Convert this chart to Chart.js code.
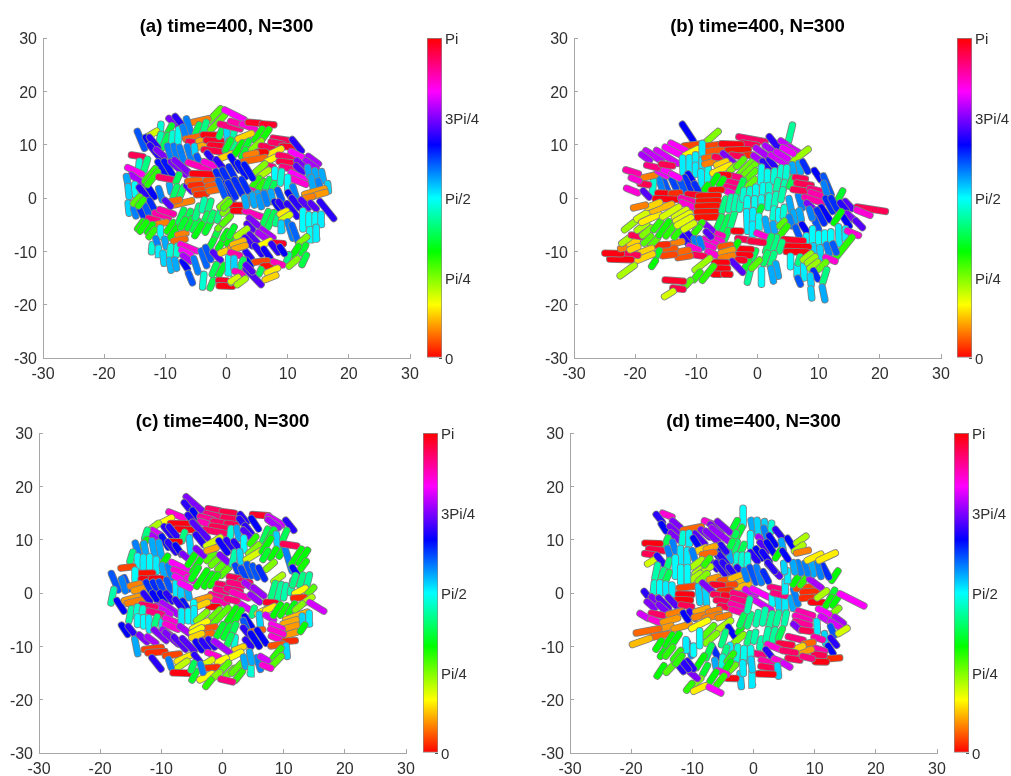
<!DOCTYPE html>
<html lang="en">
<head>
  <meta charset="UTF-8">
  <title>time=400, N=300</title>
  <script src="https://cdn.jsdelivr.net/npm/chart.js"></script>
  <style>
    body { margin: 0; background: #fff; }
    canvas { position: absolute; }
  </style>
</head>
<body>
  <script>
    // each rod: [x, y, angle in degrees, length]
    const rodsA = [
      [-1.9,15.6,50,2.5],[-1.5,14.1,50,3.2],[1.3,15.6,150,3.2],[-4.3,14.5,15,2.2],[-8.4,13.9,135,2.5],[-7.7,14.3,125,2],[-6.1,13.2,105,3],[-10.8,12.9,85,1.5],[-9.5,12.4,65,2.2],[-12.6,11.7,35,2.5],[-10.9,11,80,1.5],[-10,10.6,70,2],[-8.9,10.9,85,2],[-7.9,11.4,88,2.5],[-6.9,12.4,105,1.5],[-4.8,12.8,70,1.5],[-3.7,12.8,75,2.5],[-5.5,11.3,12,2],[-5.3,10.4,170,1.5],[-3.9,10.9,20,1],[-3.7,9.9,20,2],[-2.6,11.8,178,2],[-1.6,10.7,175,3],[-1.5,9.8,175,2],[-1.9,8.8,172,3.2],[-.95,12.2,70,1],[.1,11.8,95,1.5],[1.1,11.6,80,1.5],[.6,13.4,165,3],[.1,9.8,70,1.5],[1.1,9.9,75,1],[-14,10.9,110,3],[-12.5,10.1,120,2.5],[-11.9,10.4,125,2],[-14.6,7.9,170,1.5],[-14.3,6.2,85,1],[-13.2,6.2,75,1.8],[-11.7,8.7,125,2.5],[-10.8,8.4,135,1.5],[-9.2,8.1,105,3],[-8.2,8.1,105,3],[-7.3,8.1,105,2.5],[-6.1,8.5,105,2],[-5.2,9,95,1],[-4.6,7.2,110,1],[-2.6,7.6,125,1.5],[-4.6,6,158,3.2],[-2.8,6.4,155,1.5],[-.2,7.8,25,2],[-1,6.2,125,2],
      [-15,5.1,152,2.2],[-14.6,3.5,140,2.2],[-16.2,3.1,100,1.5],[-15,1.6,90,1.5],[-16,1.2,95,1.5],[-13.6,1,125,2],[-12.5,1.5,120,2.5],[-10.8,.7,105,1.8],[-9.2,1.8,100,1],[-10.6,5.6,118,2.2],[-9.5,5.6,118,2.5],[-7.9,5.6,135,3],[-7.3,5.9,135,3],[-12.5,4.3,55,2.5],[-12.1,3.7,55,2.5],[-10,3.7,168,1.8],[-8,3.7,70,1],[-8.4,1.2,72,1.5],[-7.3,1.2,72,1.5],[-6.1,1.8,130,1],[-5.4,3.3,12,1.5],[-4.9,2.4,5,1.5],[-4.3,1.5,8,1.5],[-4.1,.7,5,1.2],[-2.4,3.4,10,1.5],[-2.1,2.4,10,1.5],[-1.9,1.5,12,1.5],[-3.8,4.5,178,3.2],[-1,3.4,115,3],[.05,3.7,115,3],[1.1,4.3,115,3],[.3,1.2,115,3],[-.8,1.8,110,2.8],
      [1.7,14,160,1.8],[3.6,13.4,155,1.8],[4.5,14.1,175,1.5],[6.8,13.8,175,1.5],[5.2,11.9,58,2],[6.3,11.8,58,2],[3,11.6,25,2],[.3,10,65,1.5],[2,9.3,60,2],[3.3,9.9,65,1.2],[2.8,8.4,65,1],[4.9,9.9,45,1.8],[6.6,9.6,170,1.5],[8.9,11,170,2.2],[8.2,10.3,168,1.5],[10,9.6,175,1.5],[11.5,9.9,125,2.2],[7.8,8.6,28,2.2],[5.7,8.6,0,1],[4,8.2,15,1.3],[4.5,7.2,12,3.2],[7.4,7.3,30,1.5],[6.9,6,165,1],[9.6,7.8,168,1.8],[9.7,6.7,172,1.8],[10,5.6,165,1.5],[11.6,8.1,150,2],[14.2,7.1,140,1.8],[13.8,6.3,140,1.8],[12,6.5,135,1],[11.9,5.4,130,1.2],[11.7,4.1,150,2.2],[11.8,3.1,155,2.2],[13.4,4.9,100,1.3],[14.6,4.3,100,1.3],[15.7,4.1,100,1.3],[14,2.9,100,1.5],[15.2,2.4,105,1.2],[16.6,2,95,1],[14.4,1.2,18,3],[15.3,.75,18,1.5],[13.4,.1,15,1],[5.5,5.6,45,1.8],[6,4.5,40,1.8],[4.8,2.9,55,1.5],[5.6,2.3,55,1.5],[6.7,2.6,70,1.5],[7.8,2.6,70,1],[7.9,4.6,90,1],[8.9,3.9,85,1.8],[10,2.8,90,1.8],[11.1,1.2,105,1.5],[3.8,1.5,158,1],[10.4,.4,120,1],[7.4,.25,100,1.5],[6.3,.1,100,1.5],[5.2,0,100,1.5],[4.1,0,100,1.5],[8.7,.6,110,1.5],[1.4,6.5,120,2.5],[2.5,5.3,118,2.5],[3.6,5,118,2.5],[3,2.4,115,2],[1.9,2.1,115,2.5],[.85,1.5,115,2.5],
      [-16,-1.9,95,1.5],[-15,-2.7,105,1],[-13.8,-2.9,115,1.5],[-13,-2.25,110,1.2],[-12.2,-1.3,115,1.5],[-14.7,-.4,50,1.2],[-14,-.9,55,1],[-12,-4,165,1.2],[-10.6,-3.2,160,2],[-9.8,-2.6,160,2],[-10.6,-4.75,15,1.2],[-14.1,-5.1,58,1.2],[-13.6,-5.4,58,1.5],[-12.5,-5.7,60,1.2],[-12.2,-6.6,55,1.2],[-10.8,-6.4,90,1.2],[-9.2,-5.4,58,1.5],[-8.7,-6.5,60,1.8],[-7.3,-6.75,15,1],[-7.7,-7.9,12,1.5],[-7.1,-.9,15,2.5],[-8.4,-.5,12,1],[-9.6,-1,130,1],[-7.4,-3.4,70,2],[-6.2,-3.4,70,1.5],[-6,-4.75,65,1.5],[-7.1,-4.75,65,1.2],[-5.1,-5.1,68,1.5],[-4.8,-2.6,75,1.8],[-3.8,-1.3,80,1.5],[-2.8,-1.5,75,1.5],[-3.4,-3.8,70,1.2],[-4.6,-6,62,2],[-3,-5.4,65,1.8],[-2.4,-3.5,72,1],[-1.3,-3.4,75,1.2],[-1.6,-6.6,68,1],[-2.4,-8.5,65,1],[-1,-8.8,62,1],[-.2,-6.9,62,1],[.6,-7.75,60,1.5],[-.5,-4.75,48,2.2],[0,-4.1,50,1.5],[-.4,-1,45,1.5],[0,-2.25,45,1.2],[-12.2,-9.4,85,1],[-11.4,-8.2,105,.8],[-10,-8.4,100,1],[-11.1,-10,92,.8],[-10.3,-11.3,95,1.5],[-9.2,-9.9,85,1.2],[-8.1,-9.8,85,1.2],[-9.2,-12.6,98,1.5],[-8.3,-12.4,100,1.2],[-6.8,-12.6,120,1.2],[-5.9,-15,110,1.5],[-6.2,-9.3,155,2.5],[-6.6,-10.2,150,1.3],[-6.5,-11.3,140,1.2],[-5,-12.6,105,2.2],[-3.7,-11.3,108,2.5],[-3,-10.4,110,2],[-1.6,-10.9,130,1.5],[-3.8,-15.5,85,2],[-2.4,-16.1,70,1.2],[-2,-13.4,70,1.5],[-.8,-13.5,65,1.5],[.3,-12.6,88,2.5],[-.1,-9.9,25,1.5],[1.4,-9.1,18,1],[-.6,-15.5,175,1],[-.1,-16.5,178,1.8],[1.3,-15.4,40,1],
      [1.7,-1.4,178,1.2],[1.8,-2.4,178,1],[4.4,-3,158,2.5],[0,-1.3,50,1],[3.1,-.7,100,1.2],[4.4,-.4,100,1.5],[5.5,-.7,102,1.5],[6.4,-.1,105,1.5],[8.2,-1.3,120,1],[8.9,-1.3,125,1],[10.7,-2.25,125,2.5],[11.3,-.9,125,1.8],[12.8,-1.1,130,1.5],[14.2,-1.5,130,1],[16.4,-2.25,125,3.5],[12.5,-4.1,90,3],[13.5,-4.1,90,1.5],[14.5,-4.1,90,1.5],[15.5,-4,92,1.5],[13.6,-6.9,88,1.5],[14.7,-6.6,92,1.8],[6.4,-3.8,70,2.2],[7.3,-4.1,70,2.5],[8.2,-4.1,75,1],[9.3,-2.75,28,.8],[9.7,-3.6,35,1.2],[9,-5.4,95,1],[10.4,-6,105,2.8],[11.2,-6.6,108,2.8],[12.5,-7.9,45,1.3],[12.6,-9.6,65,1.2],[11.3,-9.9,60,1.5],[10,-11.3,75,1],[10.9,-12.1,45,1.5],[12.7,-11.6,68,1.5],[6.6,-6.6,140,2.2],[5.9,-7.1,140,1.5],[4.4,-4.4,135,1.5],[3.8,-5.4,130,1],[.85,-6.3,65,1.5],[2.5,-6.5,40,1.8],[4.4,-7.6,130,1.5],[3.6,-8.2,128,1.5],[6.3,-8.5,30,1.5],[8.5,-8.5,175,1.2],[5.2,-9.75,125,1.5],[3.6,-10.7,125,1.2],[6.6,-10.4,122,1.5],[7.9,-9.4,125,1.5],[9.1,-9.8,120,1],[1.9,-8.4,22,1.5],[2.2,-9.25,20,1.5],[1.4,-10.5,160,1.2],[5.6,-11.9,8,1.8],[6.6,-12.75,2,.8],[8.4,-12.25,158,1.2],[3.6,-12.25,120,.9],[5.5,-13.8,70,.5],[2.5,-12.25,70,1],[1.3,-12.1,95,1.2],[2,-14,158,1],[4.4,-14.75,130,3.5],[3.7,-13.2,130,1.2],[7.5,-13.6,28,1.5],[7.2,-14.9,25,1.5],[1.3,-15.25,35,1],[2.4,-15.7,40,1.3]
    ];
    const rodsB = [
      [-11.4,12.3,120,3.3],[-7.5,11.4,45,2.8],[5.4,12.2,78,2.8],[-.9,11,168,4.2],[-1.3,10.1,170,2.2],[2.7,10.4,125,2.5],[4.5,10.2,143,1.5],[5.9,9.1,145,1.5],[6.9,7.9,42,3.5],[-10.8,9.9,8,2.2],[-7.1,9.9,8,2],[-6.9,8.9,10,3],[-4.3,10.1,178,3],[-3.2,9,2,3.2],[-1.7,8,5,1.5],[-3.4,7.9,170,1.5],[-13,9.6,150,2.5],[-13.8,8.8,150,2.8],[-14.8,7.7,145,4],[-17,7.9,143,3],[-18.3,7.6,140,1.5],[-10.8,8.6,30,2.2],[-9,8.9,92,2.5],[-12.2,6,92,2.8],[-11.1,6.2,92,2.5],[-10.1,7.2,92,1.6],[-10.1,5.3,92,1.5],[-9,6.4,92,1.5],[-9.2,3.7,92,2.3],[-8.1,4.3,88,2.5],[-7.8,7.6,12,1.5],[-7.8,6.6,15,1.5],[-6.4,7.6,170,1],[-4.7,7.4,135,2.5],[-5.9,6.5,25,1.5],[-5.9,5.4,28,3],[-4,5.6,45,1.2],[-2.8,6.6,50,1.5],[-1.7,5.9,48,3.5],[-1.3,5.3,48,3],[-1,4.3,50,1.8],[-1.1,2.75,48,1.8],[0,7.4,140,1.5],[.8,8.5,140,2.5],[1.9,9.3,140,1.5],[1.3,6.2,125,1.5],[2.4,6.5,125,1.5],[3.6,7.1,145,3.2],[4,8,145,2],[5,8.9,148,1.8],[5.8,5.4,100,1.5],[6.9,5.7,100,1.5],[7.8,5.9,115,1.8],[9.8,4.3,120,1.8],[.6,4.3,88,2.8],[1.6,3.9,88,1.8],[2.7,4.1,85,1.8],[3.8,4.7,85,1.8],[4.7,4.7,85,1.8],[-3.6,4,165,1.2],[-4.1,2.9,165,1.5],[-4.4,1.9,165,1.5],[-4.4,1,155,1],[-5.4,4.3,178,1.2],[-7,3.4,60,1.5],[-5.9,3,60,1],[-8.5,1.8,60,1.2],[-11,3.9,120,1.2],[-11.4,2.75,115,2.2],[-10,2,115,1.3],[-12.3,2.3,110,1.8],[-13.7,2.75,112,1.8],[-15,2.3,110,1.8],[-15.9,2.75,105,1.8],[-17.1,2.1,85,2],[-17.9,4,15,2.2],[-18.5,2.6,170,1.2],[-20.5,4.9,160,2],[-20,3.5,155,1.2],[-20.5,1.4,155,1.8],[-18.2,.75,130,1.3],[-15.6,4.6,148,1.5],[-15,5.1,150,1.2],[-13.4,4.1,150,1.2],[-17.2,5.9,165,1.7],[-14.8,6.2,170,1.7],[-15.6,.9,178,1.2],[-13.4,.9,5,1.2],[-15,-.2,178,3.2],[-10.1,.6,175,2.5],[-11.4,-.4,160,2.2],[-11.4,-1.3,155,2],[-6.7,1.5,2,1.5],[-8,.4,2,3],[-8,-.6,2,3],[-8.2,-1.5,2,3],[-8.3,-2.6,2,3],[-8.3,-3.6,2,3],
      [-5.5,-1.3,75,2.2],[-6.3,-4.8,70,2.4],[-5.2,-4.8,70,2.4],[-4.1,-4.1,75,2.6],[-4.5,-1,80,2.2],[-3.6,-.8,80,2.2],[-2.8,-1,82,2],[-2.7,2.25,70,2],[-2.3,.6,85,1.5],[-1.3,.75,85,1.5],[-.3,1.2,88,1.5],[.9,1.5,88,1.5],[1.8,1.5,85,1.5],[3.2,2.4,80,1.5],[4.3,2.1,80,1.5],[5.5,3,70,1.5],[-1.7,-1,88,1.5],[-.5,-1,88,1.5],[.6,-.7,88,1.2],[1.8,-.7,85,2],[2.9,-.4,82,2],[4,.6,80,1.7],[2.6,-2.9,85,1.5],[3.5,-3.2,90,1.5],[4.3,-2.6,85,1.5],[.4,-2.25,65,1],[-1.7,-4.4,92,3.5],[-.7,-3.2,92,1.5],[-.8,-5.9,92,1.8],[.2,-4.4,88,1.8],[-5.1,-7,70,1.7],[-3.3,-6.2,178,1],[1.5,-5.3,100,2.5],[2.7,-5.7,100,1.5],[5.4,-1.6,100,2.8],[7,-.7,105,2.2],[6,-3.5,100,1.5],[7,-3.2,100,1.5],[5.4,-4.4,105,1.5],[6.5,-6.3,110,1.5],[7.7,-5.7,120,1.5],[4,-4.8,50,1],[4.3,-6.1,55,1.8],[.8,-7,155,1.8],[7,3.7,170,1.5],[7.6,2.6,170,2.2],[7,1.4,170,2.2],[9.5,1.5,165,1.8],[9.8,.6,160,2.2],[9.2,-.4,160,3],[9,-1.9,135,2.5],[11.4,2.4,110,3.5],[11.1,1.7,105,2],[13.5,.4,65,1.8],[11.7,-1.3,115,2.5],[12.5,-1,115,2],[11.1,-2.9,120,2.5],[10.3,-3.5,115,2.5],[9.6,-4.8,110,2],[8.7,-2.9,105,1.5],[14.9,-1.3,130,1.5],[14,-1.6,125,1.5],[18.6,-2.1,170,4.5],[17.3,-2.75,155,2.2],[15.2,-3.5,135,1.5],[16.6,-4.9,130,1.5],[14.5,-4.4,120,1.8],[13.1,-3.6,60,2.2],[13.3,-7,92,3],[14.4,-6.6,92,1.5],[15.6,-6.6,155,1.8],[8,-7.8,90,1.2],[9,-7,90,2.3],[10,-7.6,90,1.5],[11,-7.4,90,1.5],[12,-7.2,90,1.5],[14.1,-9.3,55,4.5],[9.2,-9.8,95,1.5],[10.3,-10.3,95,1.8],[11.5,-9.6,105,1.5],[12.6,-9.4,110,1.5],[11.9,-11.5,155,1.5],[5.9,-7.9,175,3],[6.5,-9.1,178,3.5],[6.4,-10.1,178,3.2],[2.7,-8.8,75,2.8],[1.8,-8.6,72,2.8],[3.8,-9.1,75,1.5],[2.4,-11.6,75,2.2],[1.3,-11.3,72,1.8],[-.6,-10.7,70,1.5],[3.2,-13.5,100,2.2],[2.4,-14.4,100,2.2],[.65,-14.8,90,2.5],[-1.4,-14.6,78,2.2],[-1.8,-12.6,65,1.5],[-.3,-12.4,50,1.8],[-1.4,-7.9,170,3.5],[-.1,-8.2,172,2],[-2,-9.6,178,1.8],[-2.2,-10.7,178,1.8],[-3,-11.6,175,1.5],[-3.6,-9,60,1.5],[-6.5,-6.8,158,1.5],[-6.6,-7.8,155,1.5],[-7.7,-8.2,155,2],[-8,-9,155,1.5],[-7.2,-10.5,155,1.8],[-5.2,-9,10,1.5],[-5,-10,18,1.8],[-5,-11,15,1.8],[-8,-5.5,135,1.5],[-8,-6.8,130,1],
      [-9.6,-5.4,55,1.7],[-10.1,-6.3,55,1.8],[-11.2,-7,125,1.3],[-11.8,-7.9,125,1.5],[-10.2,-8.2,105,1],[-9.3,-8.5,105,1.5],[-10.4,-9.4,155,1.5],[-9.5,-10.8,170,1.5],[-12,-11,10,1.8],[-12.3,-10,12,1.8],[-13.2,-8.4,15,1.5],[-14.5,-9.6,10,1.8],[-14.5,-10.7,8,1.8],[-15.7,-8.8,5,1.8],[-16.9,-8.2,50,1.5],[-18,-7.8,50,1.5],[-16.3,-10.4,65,1],[-17,-12.3,60,1],[-18.3,-9.9,25,2],[-18.6,-11.2,25,3],[-21.3,-13.6,40,2.8],[-20.9,-10.5,170,2.5],[-22.4,-11.5,178,3.3],[-23.6,-10.4,178,2.5],[-21.7,-9.3,15,1.2],[-20.3,-8.3,25,1.2],[-20.2,-9.4,25,1.2],[-21.6,-8,40,1.3],[-19.8,-7.1,170,1.5],[-18.1,-6.3,45,1.8],[-18.9,-5.4,40,1.8],[-20.8,-5.1,42,2.3],[-18.7,-3.2,35,2.3],[-17.5,-3.8,28,3],[-15.6,-1.8,22,3.2],[-17,-1.3,25,2],[-19.3,-1.6,15,1.8],[-16.4,-5.1,55,1.8],[-15.3,-5.7,58,2.8],[-14.2,-6,55,2.5],[-13.1,-6.6,55,1.5],[-14.2,-2.6,35,3],[-12.6,-2.9,35,2.2],[-12.2,-3.6,33,2.5],[-12,-4.4,33,2.5],[-11.2,-5.3,35,1.8],[5.4,-11.9,90,1.8],[6.5,-13.5,92,1.2],[6.8,-11.6,75,1],[7.6,-13.8,92,2.2],[8.1,-11,42,1.5],[8.8,-11.6,42,1.5],[9.2,-12.6,42,1.5],[10.6,-12.7,48,1.5],[9.5,-14.4,115,1.5],[11,-14.6,75,2.2],[8.7,-15.4,95,1.5],[6.8,-15.6,110,1],[8.8,-17.9,95,1.5],[10.8,-17.9,100,2.2],[-3.3,-12.9,130,2.5],[-6,-12.1,178,1.8],[-6,-13.2,178,2],[-6.7,-14.3,178,.8],[-5,-14.3,178,.8],[-8.1,-14.1,55,3],[-9,-12.4,42,3],[-9.9,-14.6,55,1.5],[-11.4,-16,50,1.2],[-13.6,-15.5,175,2.8],[-13,-17,172,1.5],[-14.5,-18,35,1.5]
    ];
    const rodsC = [
      [-4.6,16.7,135,3],[-5.8,16.3,125,.8],[-4.5,14.8,120,.8],[-7.5,14.6,155,2],[-1.4,15.6,168,1.2],[.95,15.1,172,1.2],[-1.6,14.6,165,1.5],[1.1,14,170,1.2],[3.4,14,125,1],[6.2,14.6,175,1.8],[8.6,13.6,145,2],[11,12.7,125,1.5],[-9.2,13.6,30,1.2],[-11,12.6,40,.6],[-7,13,178,2.2],[-6.1,11.9,178,2.2],[-2.6,14,162,1.5],[-2.6,13,158,1.5],[-.4,13.2,168,1.5],[1.5,12.9,170,.8],[-.4,12.3,170,2],[-1.2,11.5,168,2.8],[-4.8,13.4,125,2.2],[3.4,13,125,1.5],[5.3,13,120,1.5],[4.2,11.9,125,1],[8.3,13,140,1.5],[-10.8,11.3,145,.8],[-11.1,10.4,140,.8],[-12.5,11,75,.8],[-12.8,9.3,60,.8],[-8.9,11.5,125,1.5],[-8.1,11.5,125,1.5],[-6.4,10.6,75,.8],[-3.7,11.8,130,3],[-3.7,10,125,1.5],[-1.5,9.6,35,2],[1.3,11.2,85,1],[2.5,11.2,100,1.2],[3.9,11.2,130,.8],[7,10.9,70,1.5],[7.8,10.6,65,2],[8.9,9.9,95,1.5],[10.2,10.9,70,1],[-9.4,9.6,118,1.5],[-7.8,9.6,0,.8],[-8.3,8.6,125,1.5],[-7.2,8.1,120,1.2],[-5.3,9,95,2],[-14,8.4,105,1.2],[-14.9,6.8,75,1],[-12.7,8.4,100,1],[-11.3,8.4,100,2],[-10.2,8.2,100,1.8],[-9.4,6.2,60,.8],[-13.9,5.9,90,1.2],[-12.9,5.7,92,1.2],[-11.9,5.6,90,1.5],[-10.8,5.2,92,1.5],[-9.7,4.3,100,1],[-8.6,4,105,1.5],[-15.6,4.8,8,1.2],[-12.4,3.7,2,1.2],[-14.3,3.4,90,1],[-12.5,2.6,178,.8],[-10.8,2.7,178,.8],[-17.6,2.1,110,2.5],[-15.7,1.8,110,1.5],[-16.2,1.5,105,1.5],[-18,-.6,80,1.8],[-16.7,-2.4,120,1.5],[-14.3,1.5,15,.8],[-13.7,.7,18,.8],[-14.7,-1,18,2],[-14.3,-1.6,15,1.8],[-12.1,1.2,115,1],[-11,1.2,115,1],[-10,1.2,112,1.2],[-8.8,1.5,110,1.2],[-12.4,-.8,125,1],[-11,-.8,120,1],[-9.8,-.8,120,1],[-8.7,-.8,125,1],[-7.6,.7,92,1.5],[-6.7,-.1,95,1],[-5.6,-.1,100,.8],[-7,5,150,2.2],[-6.7,3.8,155,2],[-6,6.8,135,.8],[-7,2.7,150,1],[-5,2.4,152,1],[-6.1,1.4,150,1],[-5.1,6.2,60,1.2],[-4.2,5.2,60,2],[-3.4,2.7,60,2.5],[-4.5,3.7,62,1.5],[-2,6.8,50,1],[-1.2,5.9,48,1],[-.1,5.2,50,1.2],[.4,4,50,1],[-2.3,2.4,60,1.8],[-1.4,2.4,58,1.5],[.2,6.5,135,1],[-3.7,7.7,135,1],[-1.8,8.2,20,.8],[.1,8.7,122,1.8],[1.3,9,125,1.5],[2.3,9,125,.8],[3.5,9.2,90,1.5],[1.8,6.5,80,1.5],[2.9,6.8,95,1.2],[5,9.9,55,.8],[5.1,8.2,45,1.5],[5.1,7.1,35,2.2],[7.2,9,60,2],[8.3,7.4,60,1],[7,7.1,65,1],[7.8,5.1,45,1],[9.7,7.7,62,1],[10.8,6.2,105,3.5],[11,9,170,1.5],[12.1,6.8,60,2.5],[13.2,6.8,60,2],[13.2,5.2,58,1],[11.9,4,120,1],[2.4,4.3,112,1],[3.4,3.7,112,1.2],[4.4,4.3,110,1.5],[5.3,4,110,1.5],[6.4,3.7,115,1.5],[9.1,2.75,40,1],[8.3,.55,75,1.8],[9.3,.25,78,2],[10.2,.25,80,1.5],[11.3,1.2,80,1.5],[11.7,2.4,75,1],[12.9,2.4,75,1.2],[14,2.4,78,1.2],[12.7,.4,30,1.2],[14.4,.4,50,.8],[12.5,-.9,5,1],[14,-1.3,40,.8],[15.4,-2.6,145,2],
      [1.9,2.9,170,.8],[3.7,2.1,168,.8],[.1,1.5,168,1],[2.2,1.7,165,1.5],[-.1,.45,165,1.2],[1.8,.55,165,1.5],[-.95,-.6,162,1.2],[2.9,-.4,158,2],[-.4,-1.6,160,1.5],[3.4,-2.4,145,2.5],[1.5,-1.3,165,1],[4.5,1.2,140,1.5],[5.9,.25,138,1.5],[5.3,-1,138,1.2],[7.9,-1.8,175,.8],[-1.5,-2.6,0,.8],[-3.2,-1.1,18,1.5],[-3.2,-2.1,25,.8],[-4.7,-2.9,90,1.5],[-6.1,-2.3,118,1],[-7.2,-2,125,1],[-8.6,-2.9,140,2.5],[-9.7,-3.2,145,2],[-12.1,-2.4,168,1.5],[-11,-3.7,165,1.5],[-15.1,-4.1,80,1.5],[-14,-3.5,85,1],[-13.1,-3.7,85,.8],[-13.9,-5.2,90,.6],[-12.9,-5.4,90,.8],[-12,-5.8,92,1.5],[-10.9,-5.25,75,.8],[-9.8,-6.1,95,.8],[-8.3,-5.2,155,1.5],[-8.3,-6.3,155,1.5],[-6.7,-4.4,92,1.2],[-5.6,-4.3,90,1],[-4.6,-4.1,92,1.5],[-6.1,-7,140,1.5],[-3.4,-4.4,45,1.5],[-1.2,-4,48,1.5],[-.3,-4.3,50,3],[-3.7,-6,30,2],[1.5,-4.1,60,2],[2.3,-4.7,62,2.5],[5,-3.5,75,.6],[4.2,-5.4,120,1.5],[6.4,-3.5,30,.8],[7.8,-2.9,28,.8],[6.1,-5.1,95,1.5],[7.7,-4.6,145,.8],[8.9,-3.2,60,1.5],[10,-3.3,58,1.2],[11.3,-2.9,62,1.2],[12.5,-2.6,45,.8],[12.1,-4.3,22,3],[11,-5.4,20,1.5],[11.1,-6.4,18,1.5],[11.3,-7.6,18,1.5],[13.1,-5.1,95,.8],[14.2,-4.8,92,1.2],[13.1,-6.6,60,.6],[-2.1,-6.5,10,1],[-2.5,-7.7,12,.8],[-4.2,-7,30,1],[-4.2,-8,25,1],[-.4,-7,65,1.5],[.7,-7.25,65,1.5],[1.8,-7,70,1.5],[2,-9.1,85,.8],[1.1,-8.8,70,1],[3.7,-6,110,1],[3.9,-7.25,125,1],[5.6,-7.1,12,1.2],[6.4,-8.2,120,2],[5.3,-8.8,120,2],[8.9,-6.3,152,1.2],[8.9,-7.25,155,1.5],[8.9,-8.5,155,1.2],[11,-9,5,1],[8.9,-9.75,10,1.2],[10.5,-10.9,95,1.2],[8.9,-11.3,55,1.5],[8.9,-12.7,50,1.5],[4.2,-9.4,125,.8],[2.7,-10.4,25,.8],[-16,-6.9,120,1.2],[-14.9,-7,125,1],[-14.1,-10,100,2],[-13,-8.5,135,1],[-11.6,-8.8,140,1],[-10.2,-7.9,135,2],[-8.9,-7.6,140,1.5],[-8.3,-8.5,135,2.2],[-7,-9.4,130,2.2],[-5.6,-9.7,130,2.2],[-3.9,-9.9,122,1],[-2.9,-9.7,125,1],[-1.8,-9.4,125,1],[-.1,-10.1,140,2.5],[-11.4,-10.4,8,2],[-10.8,-11.1,5,2],[-8.2,-11.6,8,1.5],[-6.4,-12.3,28,1.5],[-6.7,-13.5,38,1.5],[-8.6,-13.2,105,.8],[-10.8,-13.2,125,1.8],[-4.1,-12.3,125,1],[-1.5,-11.6,155,1.2],[2,-11.7,30,1.5],[-.1,-12.6,30,.8],[-2.3,-12.9,35,.6],[-1.7,-14,5,1],[.4,-13.8,50,1],[1.2,-14.9,48,1.2],[2.3,-14.1,50,1.5],[2.7,-15.5,55,1.2],[3.6,-12.9,100,1],[4.6,-14.5,85,.5],[5.9,-13.2,105,1.5],[4.6,-12,100,1.2],[6.8,-12.3,145,.6],[7.2,-13.8,155,.7],[-6.7,-15,178,2],[-4.6,-15.5,65,1],[-4.9,-13.8,70,.6],[-2.7,-15.7,30,1.5],[-3.4,-14.1,105,.8],[-1,-15.4,45,.6],[-2.3,-16.9,55,.7],[.7,-16.4,165,1.2]
    ];
    const rodsD = [
      [-1.7,14.3,90,2.2],[-14.1,14.6,155,.7],[-15.4,14,125,.8],[-14.7,12.3,120,.5],[-12.6,12.9,135,.8],[-13,11.8,135,1],[-12.9,10.6,135,.8],[-7.3,13.2,155,.6],[-10,12.1,12,2],[-3.2,12.4,65,1.6],[-.2,12.4,100,1.5],[.7,12.4,95,1.5],[1.9,12.3,95,1.2],[2.9,12.3,85,.6],[-4.9,12.4,135,1.8],[-6.2,12,135,1.5],[-5.4,10.9,138,2.8],[-7.9,11.2,135,1],[-6.8,10.6,135,1.8],[-8.8,10.2,130,1.5],[-11.6,10.25,85,.8],[-10.5,10.25,92,1],[-9.4,9.5,120,.8],[-2.4,11.2,65,1.5],[-3.2,10.25,70,1.2],[-.5,9.9,90,1.5],[1.4,10,140,.6],[1.95,11.2,105,1],[4.1,11.2,125,.8],[6.1,9.3,120,1.2],[4.7,8.9,100,.8],[7.8,10,40,1],[7.4,8.4,40,.8],[3.05,9.9,120,1],[1.7,8.7,130,1],[2.8,8.4,120,1.5],[.9,7.4,120,1],[2,6.8,122,1.2],[.05,6.8,125,1],[-1.9,8.1,70,1.2],[-3,8.5,72,1.2],[-3.8,8.7,68,1.2],[-2.8,6.2,85,.8],[-1.9,6.2,85,.8],[-1,6.2,88,.8],[-3.9,6.8,100,.6],[-5.4,8.1,120,.8],[-4.9,8.4,125,.6],[-5.9,7.1,122,1.2],[-4.9,6.2,125,1.2],[-6.5,5.25,125,.8],[-5.4,4.6,125,1.5],[-4.3,4.6,125,1.8],[-3.5,4,125,1],[-2.1,4,125,1],[-8.5,8.2,25,.5],[-7,8.5,20,.5],[-7.4,7.4,12,1],[-14.3,9.5,70,.8],[-16.5,9.3,178,1.5],[-15.9,8.1,172,1.5],[-17,7.25,170,.6],[-16.7,5.9,35,.5],[-15.2,6.2,125,1],[-13.8,7.4,105,1],[-13,8.7,105,.8],[-11.9,7.1,92,1.5],[-10.8,6.8,92,1.5],[-9.8,7.1,105,.8],[-9.2,5.6,40,1],[-8.8,4.3,40,1],[-7.8,4.3,40,1],[-7.6,5.9,55,.5],[-9.5,3,40,1],[-8.3,2.9,45,1],[-14,5.25,75,.8],[-12.8,4.9,90,2.5],[-11.9,3.4,90,1.8],[-10.8,3.4,90,1.8],[-15.9,4,80,1.5],[-14.9,3.4,75,.8],[-14.1,3,70,.8],[-16.3,1,85,.8],[-15.3,.9,90,1],[-14.3,.75,92,.8],[-13.3,.6,92,.8],[-6.5,2.75,18,.5],[-4.7,2.4,10,.6],[-2.9,3,22,.7],[-1.7,2.25,22,1],[-1.7,1.3,22,1],[-3.9,1.5,8,.7],[-5.9,1.5,175,.7],[-4.6,.45,5,.8],[-10.9,1.1,8,1.5],[-11.2,-.25,178,1.2],[-11.4,-1.3,178,1.2],[-8.9,-.25,95,2],[-7.8,-.4,95,2],[-7,.55,135,2.8],[-5.7,-.4,170,.8],[-4,-.5,175,.8],[-5.1,-1.5,170,1],[-2.4,-.25,165,1],[-2.4,-1.3,165,1],[-4.6,-2.6,170,.8],[-2.7,-2.4,160,1.2],[-2.7,-3.4,160,.8],[-.5,.1,145,1],[1.15,0,150,2],[3.05,-1.3,90,.5],[4.1,-1.9,95,1.2],[5.2,-2.25,92,1.2],[6.3,-1.9,100,1],[1.3,-2.1,145,2.8],[3.6,.9,165,.8],[4.2,-.25,165,1],[5.2,1.2,92,.8],[6.9,-.7,105,1.8],[8.2,1,8,1.5],[9.3,.25,5,1.5],[8.9,-.9,5,1],[10.4,-1.75,178,1],[6.9,2.4,60,.8],[8.2,2.25,55,.8],[10.1,1.8,140,1.5],[11.2,-.25,40,1],[12.9,-.25,65,.7],[12.3,-1.6,60,.8],[13.4,-1.5,60,.8],[16.1,-1.3,150,3.5],[13.3,-3.5,45,.8],[13.3,3.25,60,1],[11.8,4.1,115,1.5],[10.7,4.3,105,1.5],[9.6,4.6,100,1.2],[8.6,4.6,105,1],[7.5,4.75,105,1],[6.6,4.8,100,.8],[5.6,3.25,92,.8],[5,4.8,95,.6],[4,7.25,60,.6],[5.2,7.1,120,.8],[3.3,4.3,130,2],[2.9,4.9,125,1],[-.1,3.4,110,2],[.9,3.4,105,2],[-1.3,3.4,105,.7],[2,3.1,115,1],[8,7.75,15,1],[9.9,6.7,28,1.5],[12.05,6.8,28,2],
      [-17.4,-.4,125,.7],[-15.8,-1.6,135,1.5],[-16.8,-2.25,135,.7],[-14.7,-1.9,130,1.5],[-13.3,-1.6,130,1],[-14.8,-2.9,135,1],[-11,-2.4,170,.8],[-15.75,-4,168,1],[-17.9,-4.3,145,.6],[-16.1,-5.2,155,.5],[-12.8,-3.7,15,1.2],[-13.6,-5.1,18,1.5],[-14.4,-6.5,18,1],[-11.7,-6.3,18,1.7],[-11.1,-4.4,120,.5],[-10,-4.1,125,.6],[-8.5,-3.2,20,1],[-8.7,-4.3,15,1],[-6.5,-3.4,15,.8],[-6.7,-4.4,15,1.5],[-4.9,-4.4,15,.8],[-8.8,-5.9,30,2],[-7.3,-7.1,50,1.5],[-4.7,-6,40,1.5],[-6.9,-8.5,45,1.5],[-17.3,-7.1,12,2.8],[-15.2,-8,12,2],[-18.4,-9.1,22,2],[-3.6,-7.25,120,1],[-2.1,-6.75,60,.5],[-2.4,-8.6,45,1.2],[-1.9,-5.1,70,1],[-.7,-5.1,75,1.2],[.6,-4.75,80,1.2],[-.8,-2.25,80,1.2],[1.7,-4.4,80,1.5],[2.8,-5.1,78,1.5],[3.9,-4.75,78,1],[5.2,-4.75,80,1],[-.8,-8.5,75,.8],[.2,-8.2,80,.7],[1.15,-9.4,80,.6],[2.2,-7.9,80,1],[3.3,-7.9,78,1],[4.4,-7.6,70,.8],[8.5,-3.8,160,1.5],[8,-4.75,158,1.5],[8,-5.7,162,1.5],[7.1,-6.4,135,.6],[8.8,-7.1,170,.8],[6.9,-8.5,165,1.5],[10.4,-6.3,92,1],[11.7,-8.5,95,.8],[10.6,-8.5,160,.5],[11.5,-3.5,150,1],[12.05,-5.1,145,1.5],[14,-5.1,140,.8],[13.4,-5.9,145,1],[12.9,-7.1,110,.8],[14.6,-7.1,35,.7],[13.1,-9.1,125,.7],[12.6,-10.6,120,.6],[13.1,-12.25,5,1],[10.8,-10.6,160,.8],[10.7,-11.6,170,.7],[11,-12.9,178,.8],[9,-9.4,12,.5],[8.5,-10.9,18,1],[7.4,-10.25,25,.5],[5.2,-9.6,172,1.2],[3.3,-10.1,155,1.2],[5.8,-11,168,1.2],[6.6,-12.4,170,1],[8.8,-12.1,165,.6],[.9,-11.5,165,.6],[2.5,-11.3,125,.7],[2.2,-12.9,160,1],[2.2,-13.9,170,1],[4.1,-12.7,155,.6],[5.4,-13.5,145,.3],[4,-14.6,95,1],[2,-15.2,178,1.5],[-.2,-16,92,1.5],[-2.1,-16.3,95,1.5],[-2.7,-11.3,85,1.5],[-1.6,-11.9,88,2],[-.5,-11.6,88,1.5],[-1.7,-14.1,92,1],[-.3,-13.4,95,1],[-3.6,-16,178,.5],[-10.5,-10.4,105,1.8],[-9.8,-10.7,90,.5],[-8.8,-8.5,90,1.8],[-11,-9.75,92,1],[-6.3,-11,115,1.2],[-4.9,-8.5,75,1.5],[-3.8,-10.6,92,.6],[-4.6,-11,75,.6],[-7.3,-11,70,1.5],[-8.7,-12.9,60,1.5],[-6.2,-13.4,100,.6],[-5.1,-12.9,85,.8],[-3.8,-12.1,55,.8],[-3.5,-14.1,48,.6],[-4.1,-13.5,60,.5],[-5.1,-14.9,155,.7],[-7.9,-14.4,65,.8],[-6.6,-15.7,60,1],[-5.4,-16.4,55,1],[-9.2,-16.6,45,.6],[-10.5,-17.6,55,.5],[-8.8,-17.9,28,1.2],[-6.3,-18.2,150,1.2],[-9.8,-15.4,135,.8],[-10.3,-13.5,125,.8],[-11.9,-14.1,125,.5],[-11.1,-13.6,125,.7],[-15.2,-14.6,60,1.2],[-13.6,-14.1,50,1],[-14.7,-11,60,1],[-13.8,-8.8,60,1.2],[-12.8,-8.8,60,1.5],[-13.8,-11,55,1],[-12.5,-11.6,55,1],[-12.2,-12.5,55,.8],[-15.5,-9.75,60,.8]
    ];

    // my length readings ran short by about this much in each panel
    const lengthTrim = [0.4, 0.2, 0.8, 1.0];

    const panelRods = [rodsA, rodsB, rodsC, rodsD];
    const panelTitles = ["(a) time=400, N=300", "(b) time=400, N=300", "(c) time=400, N=300", "(d) time=400, N=300"];
    const axisTicks = [-30, -20, -10, 0, 10, 20, 30];
    const barTicks = [0, Math.PI / 4, Math.PI / 2, 3 * Math.PI / 4, Math.PI];
    const barLabels = ["0", "Pi/4", "Pi/2", "3Pi/4", "Pi"];
    const barHues = ["#ff0000", "#ffff00", "#00ff00", "#00ffff", "#0000ff", "#ff00ff", "#ff0000"];

    const plotLeft = [43, 574, 39, 570];
    const plotTop = [38, 38, 433, 433];
    const barLeft = [427, 957, 423, 954];
    const fontName = "'Liberation Sans', Helvetica, Arial, sans-serif";

    function addCanvas(left, top, width, height) {
      const c = document.createElement("canvas");
      c.width = width;
      c.height = height;
      c.style.left = left + "px";
      c.style.top = top + "px";
      c.style.width = width + "px";
      c.style.height = height + "px";
      document.body.appendChild(c);
      return c;
    }

    function rodDatasets(rods, trim) {
      const sets = [];
      rods.forEach(r => {
        const rad = r[2] * Math.PI / 180;
        const half = (r[3] + trim) / 2;
        const dx = half * Math.cos(rad);
        const dy = half * Math.sin(rad);
        const line = [{ x: r[0] - dx, y: r[1] - dy }, { x: r[0] + dx, y: r[1] + dy }];
        sets.push({ data: line, showLine: true, pointRadius: 0, borderCapStyle: "round", borderColor: "#808080", borderWidth: 7.5 });
        sets.push({ data: line, showLine: true, pointRadius: 0, borderCapStyle: "round", borderColor: `hsl(${r[2] * 2},100%,50%)`, borderWidth: 5.8 });
      });
      // chart.js paints the first dataset last
      return sets.reverse();
    }

    function axisOptions(isY) {
      return {
        type: "linear",
        min: -30,
        max: 30,
        afterBuildTicks: s => { s.ticks = axisTicks.map(v => ({ value: v })); },
        afterFit: s => { if (isY) s.width = 43; else s.height = 30; },
        grid: { drawOnChartArea: false, tickLength: -4, color: "#a6a6a6" },
        border: { color: "#a6a6a6" },
        ticks: { padding: isY ? 10 : 11, labelOffset: isY ? 2 : 0, maxRotation: 0, color: "#303030", font: { family: fontName, size: 16 } }
      };
    }

    panelRods.forEach((rods, i) => {
      new Chart(addCanvas(plotLeft[i] - 43, plotTop[i] - 22, 430, 372), {
        type: "scatter",
        data: { datasets: rodDatasets(rods, lengthTrim[i]) },
        options: {
          responsive: false,
          animation: false,
          events: [],
          layout: { autoPadding: false, padding: { right: 20 } },
          plugins: {
            legend: { display: false },
            tooltip: { enabled: false },
            title: {
              display: true,
              text: panelTitles[i],
              fullSize: false,
              color: "#000",
              padding: 0,
              font: { family: fontName, size: 18.6, weight: "bold", lineHeight: "22px" }
            }
          },
          scales: { x: axisOptions(false), y: axisOptions(true) }
        }
      });

      new Chart(addCanvas(barLeft[i], plotTop[i] - 10, 65, 340), {
        type: "bar",
        data: {
          labels: [""],
          datasets: [{
            data: [[0, Math.PI]],
            borderColor: "#8a8a8a",
            borderWidth: 1,
            borderSkipped: false,
            barPercentage: 1,
            categoryPercentage: 1,
            backgroundColor: ctx => {
              const area = ctx.chart.chartArea;
              if (!area) return "#fff";
              const g = ctx.chart.ctx.createLinearGradient(0, area.bottom, 0, area.top);
              barHues.forEach((c, k) => g.addColorStop(k / (barHues.length - 1), c));
              return g;
            }
          }]
        },
        options: {
          responsive: false,
          animation: false,
          events: [],
          layout: { autoPadding: false, padding: { top: 10, bottom: 10 } },
          plugins: { legend: { display: false }, tooltip: { enabled: false }, title: { display: false } },
          scales: {
            x: { display: false },
            y: {
              position: "right",
              min: 0,
              max: Math.PI,
              afterBuildTicks: s => { s.ticks = barTicks.map(v => ({ value: v })); },
              afterFit: s => { s.width = 50; s.paddingTop = 0; s.paddingBottom = 0; },
              grid: { drawOnChartArea: false, tickLength: -3, color: "#555" },
              border: { display: false },
              ticks: {
                padding: 6,
                labelOffset: 2,
                color: "#303030",
                font: { family: fontName, size: 15 },
                callback: (v, k) => barLabels[k]
              }
            }
          }
        }
      });
    });
  </script>
</body>
</html>
